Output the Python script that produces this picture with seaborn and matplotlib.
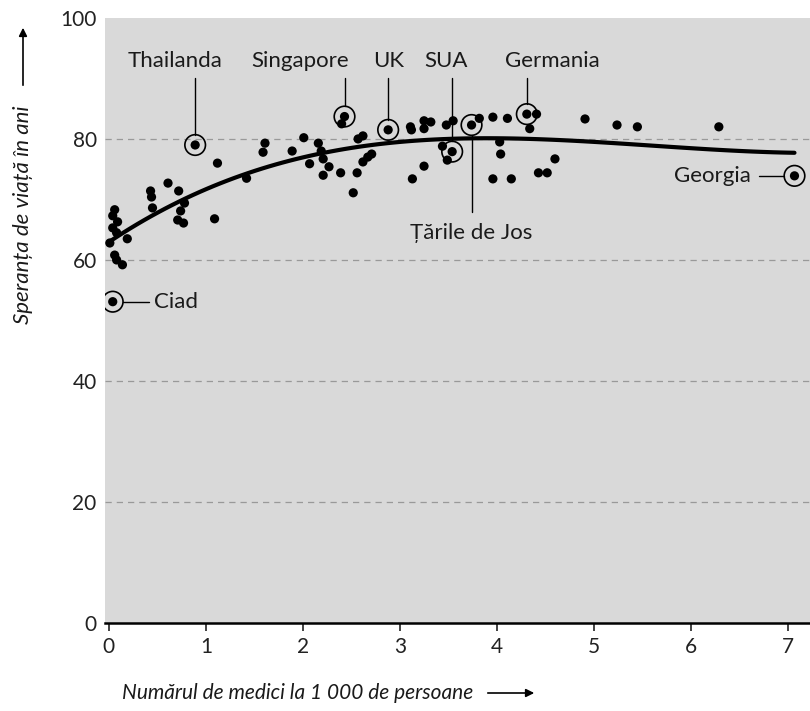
import numpy as np
import pandas as pd
import matplotlib.pyplot as plt
import seaborn as sns

#####
##### data
#####

# doctors per 1000 people / life expectancy, unlabelled countries
medici = [0.06, 0.04, 0.09, 0.04, 0.08, 0.19, 0.01, 0.06, 0.08, 0.14,
          0.43, 0.44, 0.45, 0.61, 0.72, 0.78, 0.74, 0.71, 0.77,
          1.12, 1.09, 1.42,
          1.61, 1.59, 1.89, 2.01, 2.16, 2.19, 2.21, 2.07, 2.27, 2.21, 2.39, 2.56, 2.52,
          2.40, 2.57, 2.62, 2.62, 2.67, 2.71,
          3.11, 3.12, 3.25, 3.32, 3.25, 3.25, 3.13, 3.48, 3.55, 3.44, 3.49,
          3.82, 3.96, 4.11, 4.41, 4.34, 4.03, 4.04, 4.60, 4.43, 4.52, 3.96, 4.15,
          4.91, 5.24, 5.45, 6.29]
speranta = [68.3, 67.3, 66.3, 65.3, 64.5, 63.5, 62.8, 60.8, 60.0, 59.2,
            71.4, 70.4, 68.6, 72.7, 71.4, 69.4, 68.1, 66.6, 66.1,
            76.0, 66.8, 73.5,
            79.3, 77.8, 78.0, 80.2, 79.3, 78.0, 76.7, 75.9, 75.4, 74.0, 74.4, 74.4, 71.1,
            82.5, 80.0, 80.5, 76.2, 77.0, 77.5,
            82.0, 81.5, 83.0, 82.8, 81.7, 75.5, 73.4, 82.3, 83.0, 78.8, 76.5,
            83.4, 83.6, 83.4, 84.1, 81.7, 79.5, 77.5, 76.7, 74.4, 74.4, 73.4, 73.4,
            83.3, 82.3, 82.0, 82.0]

# labelled countries
tari = ['Ciad', 'Thailanda', 'Singapore', 'UK', 'SUA', 'Țările de Jos', 'Germania', 'Georgia']
tari_medici = [0.04, 0.89, 2.43, 2.88, 3.54, 3.74, 4.31, 7.07]
tari_speranta = [53.1, 79.0, 83.7, 81.5, 77.9, 82.3, 84.1, 73.9]

y_ticks = [0, 20, 40, 60, 80, 100]
x_ticks = [0, 1, 2, 3, 4, 5, 6, 7]

df = pd.DataFrame({'medici': medici + tari_medici, 'speranta': speranta + tari_speranta})
lab = pd.DataFrame({'tara': tari, 'medici': tari_medici, 'speranta': tari_speranta})

#####
##### plot
#####

sns.set_theme(style='white')
plt.rcParams['font.family'] = ['Lato', 'DejaVu Sans']
plt.rcParams['text.color'] = '#1a1a1a'

fig = plt.figure(figsize=(8.1, 7.11), dpi=100)
ax = fig.add_axes([0.1296, 0.1238, 0.8704, 0.851])
ax.set_facecolor('#d9d9d9')

# trend line
sns.regplot(data=df, x='medici', y='speranta', order=3, ci=None, scatter=False,
            line_kws={'color': 'black', 'lw': 3}, ax=ax)

sns.scatterplot(data=df, x='medici', y='speranta', color='black', s=44,
                edgecolor='none', ax=ax, zorder=3)
sns.scatterplot(data=lab, x='medici', y='speranta', marker='o', s=220,
                facecolor='none', edgecolor='black', linewidth=1.2, ax=ax, zorder=4)

# labels: (text x, text y, alignment)
rx, ry = 0.105, 1.7
top = {'Thailanda': 0.68, 'Singapore': 1.97, 'UK': 2.88, 'SUA': 3.48, 'Germania': 4.57}
for _, r in lab.iterrows():
    t, x, y = r['tara'], r['medici'], r['speranta']
    if t in top:
        ax.text(top[t], 92.9, t, ha='center', va='center', fontsize=16)
        ax.plot([x, x], [90.1, y + ry], color='black', lw=1)
    elif t == 'Țările de Jos':
        ax.text(x, 64.5, t, ha='center', va='center', fontsize=16)
        ax.plot([x, x], [y - ry, 67.9], color='black', lw=1)
    elif t == 'Georgia':
        ax.text(6.62, y, t, ha='right', va='center', fontsize=16)
        ax.plot([6.70, x - rx], [y, y], color='black', lw=1)
    elif t == 'Ciad':
        ax.text(0.47, y, t, ha='left', va='center', fontsize=16)
        ax.plot([x + rx, 0.41], [y, y], color='black', lw=1)

ax.set_xlim(-0.04, 7.23)
ax.set_ylim(0, 100)
ax.set_xticks(x_ticks)
ax.set_yticks(y_ticks)
ax.tick_params(axis='y', length=0, labelsize=15, pad=6, colors='#222222')
ax.tick_params(axis='x', length=6, width=1.2, direction='out', labelsize=15, pad=4,
               colors='#222222', bottom=True)
for g in [20, 40, 60, 80]:
    ax.axhline(g, color='#999999', lw=0.9, ls=(0, (5, 4)), zorder=1)
sns.despine(ax=ax, left=True)
ax.spines['bottom'].set_color('black')
ax.spines['bottom'].set_linewidth(1.8)
ax.set_xlabel('')
ax.set_ylabel('')

# axis titles with arrows
fig.text(23 / 810, 1 - 215 / 711, 'Speranța de viață în ani', rotation=90,
         ha='center', va='center', fontsize=16, style='italic')
fig.text(122 / 810, 1 - 693 / 711, 'Numărul de medici la 1 000 de persoane',
         ha='left', va='center', fontsize=15, style='italic')
fig.patches.append(plt.matplotlib.patches.FancyArrowPatch(
    (23 / 810, 1 - 88 / 711), (23 / 810, 1 - 25 / 711), transform=fig.transFigure,
    arrowstyle='-|>', mutation_scale=12, color='black', lw=1.2))
fig.patches.append(plt.matplotlib.patches.FancyArrowPatch(
    (485 / 810, 1 - 693 / 711), (537 / 810, 1 - 693 / 711), transform=fig.transFigure,
    arrowstyle='-|>', mutation_scale=12, color='black', lw=1.2))

fig.savefig('out.png', dpi=100, facecolor='white')
